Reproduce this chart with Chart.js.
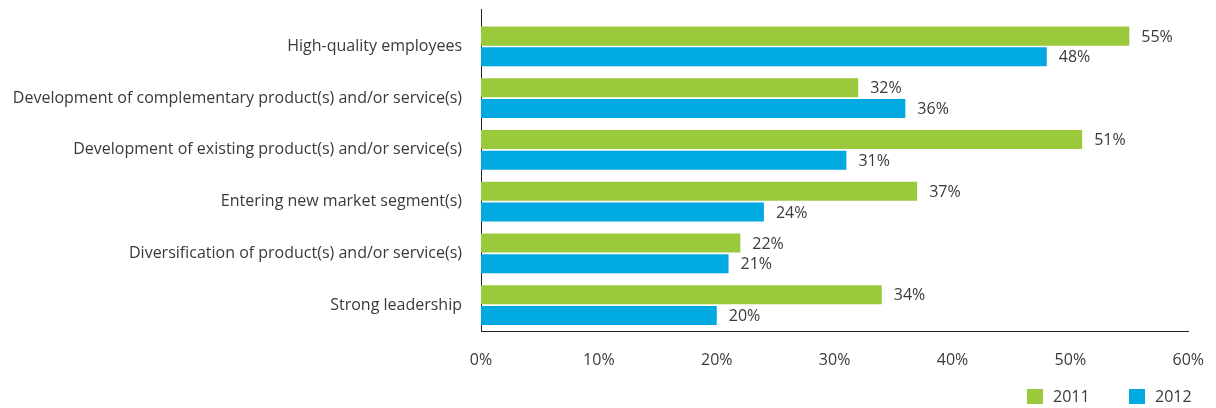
<!DOCTYPE html>
<html lang="en">
<head>
    <meta charset="UTF-8">
    <title>Success factors 2011 vs 2012</title>
    <script src="https://cdn.jsdelivr.net/npm/chart.js"></script>
    <style>
        html, body { margin: 0; padding: 0; background: #ffffff; }
        .chart-container { position: relative; width: 1216px; height: 408px; }
    </style>
</head>
<body>
    <div class="chart-container">
        <canvas id="factorsChart"></canvas>
    </div>

    <script>
        // Chart data
        const categories = [
            'High-quality employees',
            'Development of complementary product(s) and/or service(s)',
            'Development of existing product(s) and/or service(s)',
            'Entering new market segment(s)',
            'Diversification of product(s) and/or service(s)',
            'Strong leadership'
        ];
        const seriesLabels = ['2011', '2012'];
        const values2011 = [55, 32, 51, 37, 22, 34];
        const values2012 = [48, 36, 31, 24, 21, 20];
        const xTicks = [0, 10, 20, 30, 40, 50, 60];

        const GREEN = '#9aca3c';
        const BLUE = '#00a9e0';
        const TEXT = '#3a3a3a';
        const FONT = '"Open Sans", "DejaVu Sans", sans-serif';
        const FONT_SIZE = 16;

        // value labels at the end of each bar
        const valueLabels = {
            id: 'valueLabels',
            afterDatasetsDraw(chart) {
                const ctx = chart.ctx;
                ctx.save();
                ctx.font = FONT_SIZE + 'px ' + FONT;
                ctx.fillStyle = TEXT;
                ctx.textAlign = 'left';
                ctx.textBaseline = 'middle';
                chart.data.datasets.forEach((ds, i) => {
                    chart.getDatasetMeta(i).data.forEach((bar, j) => {
                        ctx.fillText(ds.data[j] + '%', bar.x + 12, bar.y + 1);
                    });
                });
                ctx.restore();
            }
        };

        // left axis runs above the first category, legend sits bottom right
        const extras = {
            id: 'extras',
            afterDraw(chart) {
                const ctx = chart.ctx;
                const area = chart.chartArea;
                ctx.save();
                ctx.strokeStyle = '#222';
                ctx.lineWidth = 1;
                ctx.beginPath();
                ctx.moveTo(area.left + 0.5, 9);
                ctx.lineTo(area.left + 0.5, area.top);
                ctx.stroke();

                // legend
                ctx.font = FONT_SIZE + 'px ' + FONT;
                ctx.textBaseline = 'middle';
                ctx.textAlign = 'left';
                const legendX = [1027, 1129];
                chart.data.datasets.forEach((ds, i) => {
                    ctx.fillStyle = ds.backgroundColor;
                    ctx.fillRect(legendX[i], 389, 16, 15);
                    ctx.fillStyle = TEXT;
                    ctx.fillText(ds.label, legendX[i] + 26, 397);
                });
                ctx.restore();
            }
        };

        const factorsChart = new Chart(document.getElementById('factorsChart').getContext('2d'), {
            type: 'bar',
            data: {
                labels: categories,
                datasets: [
                    { label: seriesLabels[0], data: values2011, backgroundColor: GREEN, categoryPercentage: 0.8, barPercentage: 0.92 },
                    { label: seriesLabels[1], data: values2012, backgroundColor: BLUE, categoryPercentage: 0.8, barPercentage: 0.92 }
                ]
            },
            options: {
                indexAxis: 'y',
                responsive: true,
                maintainAspectRatio: false,
                animation: false,
                layout: { padding: { top: 16, right: 18, bottom: 0, left: 0 } },
                plugins: {
                    legend: { display: false },
                    tooltip: { enabled: false }
                },
                scales: {
                    x: {
                        min: 0,
                        max: 60,
                        afterBuildTicks(scale) {
                            scale.ticks = xTicks.map(v => ({ value: v }));
                        },
                        afterFit(scale) { scale.height = 77; },
                        grid: { display: false },
                        border: { display: true, color: '#222', width: 1 },
                        ticks: {
                            padding: 12,
                            color: TEXT,
                            font: { family: FONT, size: FONT_SIZE },
                            maxRotation: 0,
                            callback: v => v + '%'
                        }
                    },
                    y: {
                        afterFit(scale) { scale.width = 481; },
                        grid: { display: false },
                        border: { display: true, color: '#222', width: 1 },
                        ticks: {
                            padding: 11,
                            color: TEXT,
                            font: { family: FONT, size: FONT_SIZE }
                        }
                    }
                }
            },
            plugins: [valueLabels, extras]
        });
    </script>
</body>
</html>
